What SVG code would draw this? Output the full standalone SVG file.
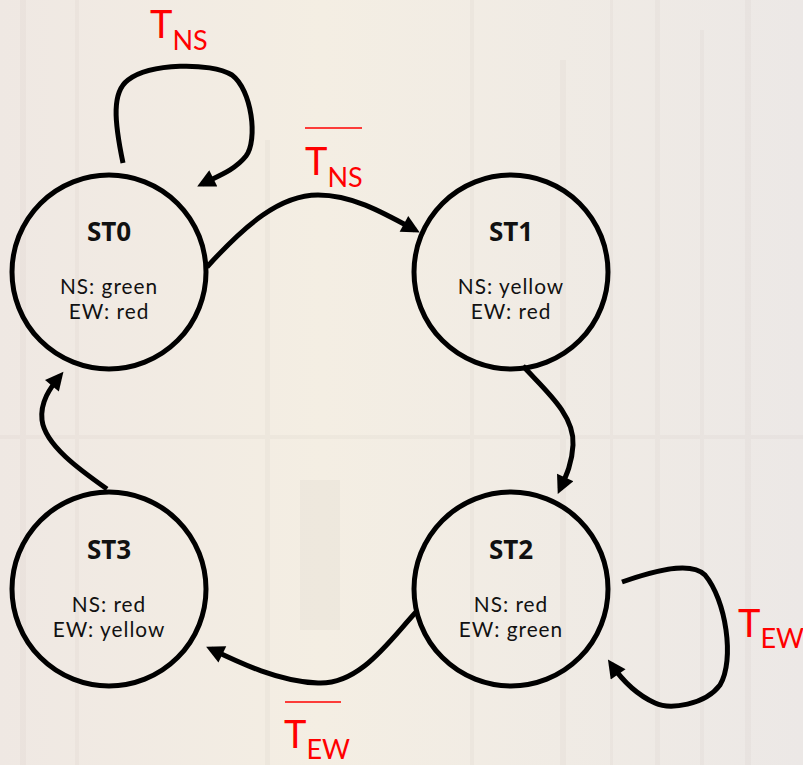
<svg xmlns="http://www.w3.org/2000/svg" width="803" height="765" viewBox="0 0 803 765">
  <defs>
    <marker id="arrow" viewBox="0 0 10 10" refX="7" refY="5" markerWidth="4.2" markerHeight="3.6" orient="auto" markerUnits="strokeWidth">
      <path d="M0,0 L10,5 L0,10 z" fill="#000"/>
    </marker>
    <linearGradient id="wash" x1="0" y1="0" x2="1" y2="0">
      <stop offset="0" stop-color="#efe8e3"/>
      <stop offset="0.4" stop-color="#f4eee3"/>
      <stop offset="1" stop-color="#ece8e6"/>
    </linearGradient>
  </defs>
  <style>
    .state { fill: none; stroke: #000; stroke-width: 5; }
    .title { font-family: "Open Sans", "Liberation Sans", sans-serif; font-weight: bold; font-size: 26px; text-anchor: middle; fill: #111; }
    .info { font-family: Lato, "Liberation Sans", sans-serif; font-size: 20.8px; letter-spacing: 1px; text-anchor: middle; fill: #111; }
    .edge { fill: none; stroke: #000; stroke-width: 5; stroke-linecap: butt; marker-end: url(#arrow); }
    .cond { font-family: Lato, "Liberation Sans", sans-serif; fill: #ff0000; }
    .big { font-size: 38px; }
    .sub { font-size: 27px; }
    .bar { stroke: #ff0000; stroke-width: 1.5; }
  </style>

  <!-- washed-out backdrop -->
  <rect width="803" height="765" fill="url(#wash)"/>
  <g opacity="0.12" fill="#c9bfb6">
    <rect x="20" y="0" width="6" height="765"/>
    <rect x="75" y="0" width="4" height="765"/>
    <rect x="265" y="140" width="5" height="625"/>
    <rect x="300" y="480" width="40" height="150"/>
    <rect x="470" y="0" width="4" height="765"/>
    <rect x="560" y="60" width="6" height="705"/>
    <rect x="610" y="0" width="3" height="765"/>
    <rect x="655" y="0" width="5" height="765"/>
    <rect x="700" y="30" width="4" height="735"/>
    <rect x="745" y="0" width="6" height="765"/>
    <rect x="0" y="435" width="803" height="4"/>
  </g>

  <!-- transitions -->
  <g id="connectors">
    <path class="edge" d="M123,163 C 114,120 112,92 128,80 C 150,63 210,62 232,75 C 252,90 258,140 246,156 C 235,170 218,176 202,184"/>
    <path class="edge" d="M207,267 C 245,225 280,195 318,195 C 352,195 382,212 415,230"/>
    <path class="edge" d="M523,366 C 545,390 575,415 573,445 C 572,465 565,478 560,489"/>
    <path class="edge" d="M622,582 C 650,572 690,560 705,575 C 726,600 735,660 720,685 C 705,705 670,710 655,703 C 635,694 622,680 611,664"/>
    <path class="edge" d="M416,612 C 390,640 360,685 318,683 C 280,682 240,663 211,649"/>
    <path class="edge" d="M107,489 C 80,470 45,445 42,420 C 40,402 50,388 60,376"/>
  </g>

  <!-- transition conditions -->
  <g id="labels">
    <text class="cond" x="150" y="38"><tspan class="big">T</tspan><tspan class="sub" dy="12">NS</tspan></text>
    <line class="bar" x1="305" y1="128" x2="362" y2="128"/>
    <text class="cond" x="305" y="175"><tspan class="big">T</tspan><tspan class="sub" dy="12">NS</tspan></text>
    <text class="cond" x="738" y="637"><tspan class="big">T</tspan><tspan class="sub" dy="11">EW</tspan></text>
    <line class="bar" x1="285" y1="702" x2="341" y2="702"/>
    <text class="cond" x="284" y="748"><tspan class="big">T</tspan><tspan class="sub" dy="11">EW</tspan></text>
  </g>

  <g id="ST0">
    <circle class="state" cx="109" cy="272" r="97"/>
    <text class="title" x="109" y="241">ST0</text>
    <text class="info" x="109" y="294">NS: green</text>
    <text class="info" x="109" y="319">EW: red</text>
  </g>
  <g id="ST1">
    <circle class="state" cx="511" cy="272" r="97"/>
    <text class="title" x="511" y="241">ST1</text>
    <text class="info" x="511" y="294">NS: yellow</text>
    <text class="info" x="511" y="319">EW: red</text>
  </g>
  <g id="ST2">
    <circle class="state" cx="511" cy="589" r="97"/>
    <text class="title" x="511" y="559">ST2</text>
    <text class="info" x="511" y="612">NS: red</text>
    <text class="info" x="511" y="637">EW: green</text>
  </g>
  <g id="ST3">
    <circle class="state" cx="109" cy="589" r="97"/>
    <text class="title" x="109" y="559">ST3</text>
    <text class="info" x="109" y="612">NS: red</text>
    <text class="info" x="109" y="637">EW: yellow</text>
  </g>

  <text x="449" y="779" font-family="Lato, 'Liberation Sans', sans-serif" font-size="20" fill="#777">7</text>
</svg>
